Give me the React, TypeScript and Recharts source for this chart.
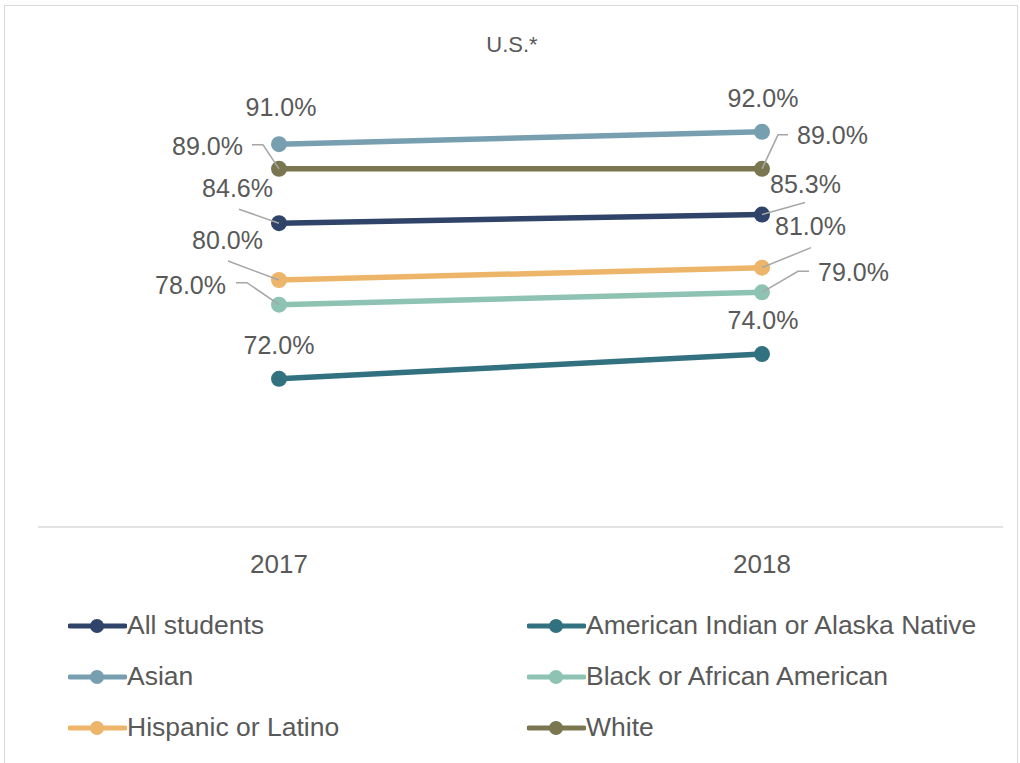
import React from 'react';
import { LineChart, Line, XAxis, YAxis, Legend } from 'recharts';

const years = ['2017', '2018'];
const allStudents = [84.6, 85.3];
const aian = [72.0, 74.0];
const asian = [91.0, 92.0];
const black = [78.0, 79.0];
const hispanic = [80.0, 81.0];
const white = [89.0, 89.0];

const data = years.map((year, i) => ({
  year,
  all: allStudents[i],
  aian: aian[i],
  asian: asian[i],
  black: black[i],
  hispanic: hispanic[i],
  white: white[i],
}));

const series = [
  { key: 'all', name: 'All students', color: '#2f4468' },
  { key: 'aian', name: 'American Indian or Alaska Native', color: '#32717f' },
  { key: 'asian', name: 'Asian', color: '#779fb0' },
  { key: 'black', name: 'Black or African American', color: '#8ec3b3' },
  { key: 'hispanic', name: 'Hispanic or Latino', color: '#ecb56a' },
  { key: 'white', name: 'White', color: '#7a7650' },
];

const FONT = '"Liberation Sans", Arial, sans-serif';
const TEXT = '#595959';
const LEADER = '#a6a6a6';

// label placement relative to each point: [2017, 2018]
type Place = { dx: number; dy: number; anchor: 'start' | 'middle' | 'end'; leader?: number[][] };
const labelLayout: Record<string, Place[]> = {
  asian: [
    { dx: 2, dy: -37, anchor: 'middle' },
    { dx: 1, dy: -34, anchor: 'middle' },
  ],
  white: [
    { dx: -36, dy: -23, anchor: 'end', leader: [[-27, -24], [-16, -24], [0, 0]] },
    { dx: 35, dy: -34, anchor: 'start', leader: [[26, -34], [16, -34], [0, 0]] },
  ],
  all: [
    { dx: -6, dy: -35, anchor: 'end', leader: [[-40, -14], [0, 0]] },
    { dx: 8, dy: -31, anchor: 'start', leader: [[43, -12], [0, 0]] },
  ],
  hispanic: [
    { dx: -16, dy: -40, anchor: 'end', leader: [[-51, -19], [0, 0]] },
    { dx: 13, dy: -42, anchor: 'start', leader: [[49, -20], [0, 0]] },
  ],
  black: [
    { dx: -53, dy: -20, anchor: 'end', leader: [[-43, -22], [-32, -22], [0, 0]] },
    { dx: 56, dy: -20, anchor: 'start', leader: [[47, -21], [36, -21], [0, 0]] },
  ],
  aian: [
    { dx: 0, dy: -34, anchor: 'middle' },
    { dx: 1, dy: -34, anchor: 'middle' },
  ],
};

const makeLabel = (key: string) => (props: any) => {
  const { x, y, value, index } = props;
  const p = labelLayout[key][index];
  if (!p) return null;
  return (
    <g key={`${key}-${index}`}>
      {p.leader && (
        <polyline
          points={p.leader.map(([a, b]) => `${x + a},${y + b}`).join(' ')}
          fill="none"
          stroke={LEADER}
          strokeWidth={1.5}
        />
      )}
      <text
        x={x + p.dx}
        y={y + p.dy}
        textAnchor={p.anchor}
        dominantBaseline="central"
        fontSize={25}
        fontFamily={FONT}
        fill={TEXT}
      >
        {`${Number(value).toFixed(1)}%`}
      </text>
    </g>
  );
};

const LegendContent = ({ payload }: any) => (
  <div
    style={{
      display: 'grid',
      gridTemplateColumns: '459px auto',
      gridAutoRows: '51px',
      fontFamily: FONT,
    }}
  >
    {(payload || []).map((item: any) => (
      <div key={item.value} style={{ display: 'flex', alignItems: 'center', height: 51 }}>
        <svg width={59} height={20} style={{ marginRight: 0 }}>
          <line x1={2} y1={10} x2={57} y2={10} stroke={item.color} strokeWidth={5} strokeLinecap="round" />
          <circle cx={29} cy={10} r={7} fill={item.color} />
        </svg>
        <span style={{ fontSize: 26.5, color: TEXT, whiteSpace: 'nowrap' }}>{item.value}</span>
      </div>
    ))}
  </div>
);

export default function App() {
  return (
    <div
      style={{
        position: 'absolute',
        left: 0,
        top: 0,
        width: 1020,
        height: 763,
        overflow: 'hidden',
        background: '#fff',
        fontFamily: FONT,
      }}
    >
      <div
        style={{
          position: 'absolute',
          left: 4,
          top: 5,
          width: 1012,
          height: 800,
          border: '1.5px solid #d9d9d9',
        }}
      />
      <div
        style={{
          position: 'absolute',
          top: 30,
          left: 0,
          width: 1024,
          textAlign: 'center',
          fontSize: 22,
          color: TEXT,
          lineHeight: '30px',
        }}
      >
        U.S.*
      </div>
      <div style={{ position: 'absolute', left: 0, top: 0 }}>
        <LineChart width={1020} height={763} data={data} margin={{ top: 33, right: 17, bottom: 176, left: 38 }}>
          <XAxis
            dataKey="year"
            height={60}
            padding={{ left: 241, right: 241 }}
            axisLine={{ stroke: '#d9d9d9', strokeWidth: 1.5 }}
            tickLine={false}
            tickSize={0}
            tickMargin={28}
            tick={{ fill: TEXT, fontSize: 26, fontFamily: FONT }}
          />
          <YAxis hide domain={[60, 100]} />
          <Legend
            verticalAlign="middle"
            layout="horizontal"
            align="center"
            wrapperStyle={{ top: 600, left: 68, width: 940 }}
            content={<LegendContent />}
          />
          {series.map((s) => (
            <Line
              key={s.key}
              dataKey={s.key}
              name={s.name}
              stroke={s.color}
              strokeWidth={5.5}
              dot={{ r: 8, fill: s.color, stroke: 'none' }}
              activeDot={false}
              isAnimationActive={false}
              label={makeLabel(s.key)}
            />
          ))}
        </LineChart>
      </div>
    </div>
  );
}
